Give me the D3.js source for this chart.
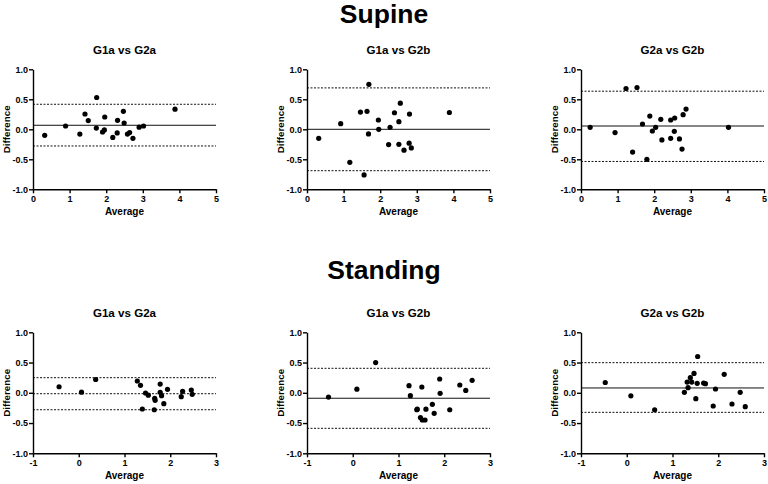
<!DOCTYPE html>
<html>
<head>
<meta charset="utf-8">
<script src="https://cdn.jsdelivr.net/npm/d3@7"></script>
<style>
  body { margin: 0; background: #fff; }
  svg text { font-family: "Liberation Sans", Arial, sans-serif; font-weight: bold; fill: #000; }
</style>
</head>
<body>
<script>
var comparisons = ['G1a vs G2a', 'G1a vs G2b', 'G2a vs G2b'];
var yTicks = [-1, -0.5, 0, 0.5, 1];
var supineTicks = [0, 1, 2, 3, 4, 5];
var standingTicks = [-1, 0, 1, 2, 3];

// supine: average / difference per comparison
var supineAvg = [
    [0.32, 0.89, 1.28, 1.42, 1.51, 1.74, 1.73, 1.90, 1.95, 1.96, 2.18, 2.31, 2.30, 2.47, 2.49, 2.58, 2.64, 2.73, 2.90, 3.02, 3.88],
    [0.32, 0.92, 1.17, 1.46, 1.64, 1.68, 1.69, 1.56, 1.95, 1.96, 2.23, 2.27, 2.39, 2.51, 2.51, 2.55, 2.65, 2.79, 2.80, 2.85, 3.89],
    [0.25, 0.93, 1.23, 1.41, 1.53, 1.68, 1.80, 1.88, 1.95, 2.04, 2.18, 2.21, 2.45, 2.45, 2.56, 2.55, 2.69, 2.76, 2.79, 2.87, 4.03]
];
var supineDiff = [
    [-0.10, 0.055, -0.08, 0.255, 0.145, 0.53, 0.02, -0.045, -0.01, 0.205, -0.135, 0.15, -0.06, 0.30, 0.105, -0.08, -0.055, -0.15, 0.035, 0.055, 0.335],
    [-0.15, 0.094, -0.55, 0.287, 0.30, -0.077, 0.75, -0.76, 0.155, 0.0, -0.255, 0.033, 0.276, 0.127, -0.25, 0.436, -0.348, -0.232, 0.254, -0.31, 0.28],
    [0.033, -0.055, 0.68, -0.38, 0.696, 0.088, -0.50, 0.22, -0.028, 0.033, 0.166, -0.177, 0.155, -0.15, 0.188, -0.033, -0.16, -0.33, 0.243, 0.337, 0.033]
];
var supineBias = [0.067, 0.0, 0.055];
var supineUpper = [0.417, 0.69, 0.635];
var supineLower = [-0.278, -0.69, -0.536];

// standing
var standingAvg = [
    [-0.43, 0.06, 0.37, 1.28, 1.35, 1.46, 1.52, 1.39, 1.66, 1.67, 1.65, 1.78, 1.78, 1.81, 1.86, 1.94, 2.24, 2.27, 2.46, 2.48],
    [-0.53, 0.09, 0.50, 1.23, 1.26, 1.51, 1.90, 1.91, 2.34, 2.47, 2.61, 1.40, 1.60, 1.74, 1.78, 2.12, 1.48, 1.52, 1.58, 1.41],
    [-0.47, 0.09, 0.61, 1.55, 1.47, 1.39, 1.32, 1.42, 1.34, 1.26, 1.54, 1.68, 1.72, 2.13, 1.94, 1.51, 2.48, 1.89, 2.30, 2.59]
];
var standingDiff = [
    [0.10, 0.01, 0.22, 0.195, 0.124, -0.003, -0.04, -0.268, -0.09, -0.125, -0.28, 0.145, 0.008, -0.048, -0.18, 0.058, -0.064, 0.025, 0.046, -0.025],
    [-0.07, 0.06, 0.50, 0.117, -0.048, 0.096, 0.228, -0.008, 0.129, 0.04, 0.206, -0.28, -0.27, -0.19, -0.34, -0.28, -0.41, -0.45, -0.45, -0.27],
    [0.17, -0.05, -0.28, 0.60, 0.32, 0.25, 0.178, 0.178, 0.085, 0.008, 0.157, 0.16, 0.15, 0.305, 0.063, -0.097, 0.008, -0.218, -0.185, -0.23]
];
var standingBias = [-0.015, -0.09, 0.08];
var standingUpper = [0.25, 0.405, 0.498];
var standingLower = [-0.28, -0.587, -0.323];

var W = 768, H = 484;
var panelLeft = [33, 307, 581];
var panelW = 183;

var svg = d3.select('body').append('svg')
    .attr('width', W)
    .attr('height', H);

function drawRow(cfg) {
    svg.append('text')
        .attr('x', W / 2)
        .attr('y', cfg.headY)
        .attr('text-anchor', 'middle')
        .style('font-size', '26.5px')
        .text(cfg.head);

    comparisons.forEach(function(name, i) {
        var x = d3.scaleLinear().domain(cfg.xDomain).range([0, panelW]);
        var y = d3.scaleLinear().domain([-1, 1]).range([cfg.plotH, 0]);

        var g = svg.append('g')
            .attr('transform', 'translate(' + panelLeft[i] + ',' + cfg.top + ')');

        g.append('text')
            .attr('x', panelW / 2)
            .attr('y', cfg.titleY - cfg.top)
            .attr('text-anchor', 'middle')
            .style('font-size', '11.6px')
            .text(name);

        // bias + limits of agreement
        var lines = [
            { v: cfg.upper[i], dash: true },
            { v: cfg.bias[i], dash: cfg.biasDashed[i] },
            { v: cfg.lower[i], dash: true }
        ];
        g.selectAll('line.loa').data(lines).enter()
            .append('line')
            .attr('class', 'loa')
            .attr('x1', 0)
            .attr('x2', panelW)
            .attr('y1', d => y(d.v))
            .attr('y2', d => y(d.v))
            .attr('stroke', '#111')
            .attr('stroke-width', 1)
            .attr('stroke-dasharray', d => d.dash ? '2,1.5' : null);

        var pts = cfg.avg[i].map(function(a, j) { return { a: a, d: cfg.diff[i][j] }; });
        g.selectAll('circle').data(pts).enter()
            .append('circle')
            .attr('cx', d => x(d.a))
            .attr('cy', d => y(d.d))
            .attr('r', 2.6)
            .attr('fill', '#000');

        var xAxis = g.append('g')
            .attr('transform', 'translate(0,' + cfg.plotH + ')')
            .call(d3.axisBottom(x).tickValues(cfg.xTicks).tickSize(4).tickPadding(2)
                .tickSizeOuter(0).tickFormat(d3.format('d')));
        var yAxis = g.append('g')
            .call(d3.axisLeft(y).tickValues(yTicks).tickSize(4).tickPadding(1)
                .tickSizeOuter(0).tickFormat(d => d.toFixed(1)));

        [xAxis, yAxis].forEach(function(ax) {
            ax.selectAll('path, line').attr('stroke', '#000').attr('stroke-width', 1.4);
            ax.selectAll('text').style('font-size', '9px').style('font-family', '"Liberation Sans", Arial, sans-serif').style('font-weight', 'bold');
        });
        // standard minus: d3 uses U+2212, reference shows hyphen
        xAxis.selectAll('text').text(d => String(d));

        g.append('text')
            .attr('transform', 'translate(' + (-23) + ',' + (cfg.plotH / 2) + ') rotate(-90)')
            .attr('text-anchor', 'middle')
            .style('font-size', '9.8px')
            .text('Difference');

        g.append('text')
            .attr('x', panelW / 2)
            .attr('y', cfg.plotH + 26)
            .attr('text-anchor', 'middle')
            .style('font-size', '10px')
            .text('Average');
    });
}

drawRow({
    head: 'Supine', headY: 22.5, titleY: 54, top: 69.3, plotH: 120,
    xDomain: [0, 5], xTicks: supineTicks,
    avg: supineAvg, diff: supineDiff,
    bias: supineBias, upper: supineUpper, lower: supineLower,
    biasDashed: [false, false, false]
});

drawRow({
    head: 'Standing', headY: 278.5, titleY: 317, top: 332.3, plotH: 121,
    xDomain: [-1, 3], xTicks: standingTicks,
    avg: standingAvg, diff: standingDiff,
    bias: standingBias, upper: standingUpper, lower: standingLower,
    biasDashed: [true, false, false]
});
</script>
</body>
</html>
